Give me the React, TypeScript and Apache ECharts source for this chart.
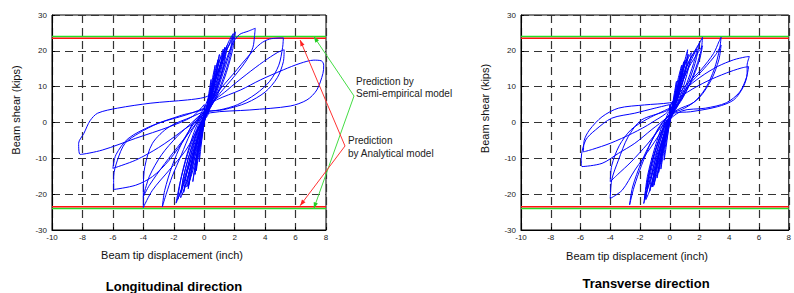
import React, { useEffect, useRef } from "react";
import * as echarts from "echarts";

// Prediction levels (kips)
const semiEmpiricalLevel = 24;
const analyticalLevel = 23.5;

// ---------- Longitudinal direction: hysteresis loops [displacement (inch), shear (kips)] ----------
const longLoopA = [[0,0],[0.15,4],[0.3,8],[0.45,12],[0.4,9],[0.2,4],[0,0.5],[-0.1,-3],[-0.22,-7],[-0.32,-11],[-0.3,-8],[-0.15,-4],[0,0]];
const longLoopB = [[0.05,1],[0.3,7],[0.55,12.5],[0.72,16],[0.6,12],[0.35,6],[0.08,1.5],[-0.15,-3],[-0.35,-8.5],[-0.52,-13.5],[-0.47,-10],[-0.25,-5],[0,0.5]];
const longLoopP = [[0,2],[0.3,6],[0.6,11],[0.85,14.5],[0.7,11],[0.35,5],[-0.05,0],[-0.25,-5],[-0.45,-10],[-0.6,-14.5],[-0.5,-10],[-0.25,-4],[0,1]];
const longLoopC = [[0.1,2],[0.4,8],[0.75,14.5],[1.0,19],[0.85,14.5],[0.5,8],[0.15,3],[-0.2,-2.5],[-0.45,-8],[-0.62,-13],[-0.75,-16.5],[-0.6,-12],[-0.35,-6],[-0.05,0]];
const longLoopN = [[0,1],[0.35,8],[0.7,14],[0.9,17.5],[0.75,13],[0.4,6],[0,1],[-0.3,-5],[-0.6,-11],[-0.9,-15.5],[-1.15,-18],[-0.95,-13],[-0.55,-6],[-0.1,1]];
const longLoopD = [[0.1,2],[0.5,9],[0.95,16.5],[1.25,20.5],[1.1,16.5],[0.7,9],[0.25,3.5],[-0.2,-1.5],[-0.55,-8],[-0.85,-14],[-1.02,-17.5],[-0.85,-13],[-0.5,-6],[-0.1,0.5]];
const longLoopR = [[0,2],[-0.4,-6],[-0.8,-13],[-1.05,-18.5],[-0.95,-14],[-0.6,-7.5],[-0.2,-1.5],[0.2,4],[0.6,10],[1.1,17],[1.35,21],[1.15,15.5],[0.65,8],[0.1,2]];
const longLoopE = [[0,3],[0.5,9],[1.0,15],[1.4,19.5],[1.2,15],[0.7,8],[0.1,2],[-0.5,-5],[-1.0,-12],[-1.3,-16.5],[-1.5,-19.5],[-1.35,-15],[-0.9,-8],[-0.3,-1],[0.2,3]];
const longLoopO = [[0.1,2],[0.55,10],[1.0,17],[1.5,21.5],[1.3,16],[0.8,9],[0.2,2.5],[-0.35,-4],[-0.75,-10],[-1.1,-16],[-1.3,-18.5],[-1.55,-21],[-1.4,-16],[-0.95,-8.5],[-0.4,-1.5],[0.1,2.5]];
const longLoopF = [[0.1,2.5],[0.6,10],[1.2,18],[1.6,22.5],[1.9,24.8],[1.7,20],[1.1,12],[0.5,5],[0,1.5],[-0.4,-4],[-0.8,-11],[-1.15,-16],[-1.35,-19.5],[-1.15,-14],[-0.7,-6],[-0.2,0.5]];
const longLoopQ = [[0.1,3],[0.7,11],[1.25,18.5],[1.7,22],[1.95,24],[1.6,17],[1.0,9.5],[0.4,4],[-0.2,-1],[-0.7,-8],[-1.2,-15],[-1.6,-20],[-1.75,-21.5],[-1.5,-15],[-1.0,-7],[-0.4,0],[0.2,3]];
const longLoopG = [[0.2,3],[0.7,10],[1.3,18],[1.8,23.5],[2.05,25.3],[1.85,20],[1.3,12],[0.6,5.5],[0,2],[-0.5,-4],[-1.0,-11],[-1.4,-17],[-1.65,-20.5],[-1.85,-22.5],[-1.6,-17],[-1.1,-9],[-0.5,-2],[0,3]];
const longLoopH = [[0,3],[0.6,7.5],[1.1,13],[1.8,21.5],[2.3,24.5],[2.9,25.5],[3.35,26.3],[3.3,24],[3.2,21],[2.8,17.5],[2.0,13],[1.0,8],[0.3,4],[-0.3,1],[-0.9,-3],[-1.5,-9],[-2.1,-15],[-2.5,-20],[-2.75,-23.5],[-2.6,-19],[-2.1,-12],[-1.5,-6],[-0.8,-1],[0,3]];
const longLoopI = [[0.2,4],[0.8,8],[1.9,13.5],[3.0,19],[3.7,22],[4.3,23.3],[5.2,23.6],[5.15,21],[4.9,16],[4.3,11.5],[3.4,8],[2.2,5],[1.0,3.5],[0,3],[-0.8,1.6],[-2.3,-1.2],[-3.4,-5.8],[-3.9,-12.3],[-4.0,-18],[-4.0,-23.7],[-3.4,-18.9],[-2.3,-13.3],[-1.2,-7.7],[-0.35,-1.2],[0.3,3]];
const longLoopJ = [[0.3,4],[1.5,9],[2.8,13.5],[3.9,17],[4.8,19.5],[5.25,20.3],[5.2,17],[4.8,12.5],[4.0,8.5],[2.8,5.5],[1.3,3.6],[0,2.8],[-0.8,0],[-1.8,-4],[-2.8,-9],[-3.6,-15],[-4.0,-20.7],[-3.6,-17.5],[-2.6,-11.5],[-1.5,-5.5],[-0.5,0],[0,4]];
const longLoopK = [[0,4],[0.8,6.3],[2.4,9.1],[3.7,11.9],[5.2,14.7],[6.3,16.5],[7.2,17.4],[7.7,17.2],[7.85,16],[7.8,13.7],[7.4,9.1],[6.75,6.3],[5.65,4.6],[3.0,3.5],[0.4,2.7],[-0.6,0.7],[-1.2,-4],[-2.3,-10.5],[-3.4,-15.1],[-4.5,-17.5],[-5.95,-18.7],[-5.95,-15.1],[-5.7,-10.5],[-5.2,-5.8],[-4.3,-3],[-3.0,-0.2],[-1.2,2.1],[0,4]];
const longLoopL = [[0,3],[-1.5,-2.5],[-3,-7],[-4.5,-10.5],[-6.0,-12.8],[-5.8,-9],[-5.0,-4.5],[-3.5,-1],[-1.5,2],[0,4]];
const longLoopM = [[0,5],[-0.8,1.6],[-2.3,-1.2],[-4.5,-4.4],[-6.7,-7.7],[-8.15,-8.9],[-8.25,-5.8],[-7.9,-3],[-7.5,0.5],[-7.0,2.6],[-5.7,4.0],[-3.5,5.4],[-1.1,6.3],[0,7],[0.8,8.5]];

// ---------- Transverse direction ----------
const transLoopA = [[0,0],[0.15,4],[0.3,8],[0.45,11.5],[0.38,8.5],[0.2,4],[0,0.5],[-0.12,-3],[-0.25,-7],[-0.38,-10.5],[-0.33,-7.5],[-0.15,-3.5],[0,0]];
const transLoopB = [[0.05,1],[0.3,7],[0.55,12],[0.8,16],[0.65,12],[0.35,6],[0.05,1.5],[-0.2,-3],[-0.4,-8],[-0.6,-13],[-0.52,-9.5],[-0.28,-4.5],[0,0.5]];
const transLoopP = [[0,2],[0.3,6],[0.6,10.5],[0.85,14],[0.7,10.5],[0.35,5],[-0.05,0],[-0.3,-5],[-0.55,-10],[-0.75,-14],[-0.62,-10],[-0.3,-4],[0,1]];
const transLoopC = [[0.1,2],[0.45,8.5],[0.8,14.5],[1.05,17.5],[0.9,14],[0.5,8],[0.15,3],[-0.2,-2],[-0.5,-8],[-0.72,-12.5],[-0.85,-15.5],[-0.7,-11],[-0.4,-5],[-0.05,0.5]];
const transLoopN = [[0,1],[0.35,7.5],[0.7,13.5],[0.95,17],[0.8,13],[0.45,6],[0,1],[-0.3,-5],[-0.6,-10.5],[-0.9,-15],[-1.15,-18],[-0.95,-13],[-0.55,-6],[-0.1,1]];
const transLoopD = [[0.1,2],[0.5,9],[0.9,15.5],[1.2,20.3],[1.1,16],[0.7,9],[0.25,3.5],[-0.25,-2],[-0.6,-8.5],[-0.9,-14],[-1.05,-17.5],[-0.9,-13],[-0.55,-6],[-0.1,0.5]];
const transLoopR = [[0,2],[-0.45,-6.5],[-0.9,-13],[-1.2,-18],[-1.05,-13.5],[-0.65,-7],[-0.2,-1.5],[0.2,4],[0.55,9.5],[1.0,16],[1.25,19],[1.05,14],[0.6,7.5],[0.1,2]];
const transLoopE = [[0.15,2.5],[0.6,9.5],[1.1,15.5],[1.55,19],[1.85,20.5],[1.6,16.5],[1.1,10.5],[0.5,5],[0,1.5],[-0.45,-4.5],[-0.85,-11],[-1.15,-16],[-1.35,-19.2],[-1.2,-14.5],[-0.75,-6.5],[-0.2,0.5]];
const transLoopO = [[0.1,2],[0.55,9.5],[1.0,16],[1.45,19.5],[1.25,15],[0.8,8.5],[0.2,2.5],[-0.35,-4],[-0.8,-10.5],[-1.15,-16],[-1.35,-19],[-1.6,-21.5],[-1.45,-16],[-1.0,-8.5],[-0.4,-1.5],[0.1,2.5]];
const transLoopF = [[0.2,3],[0.7,9.5],[1.3,16],[1.8,20.5],[2.2,23.8],[2.1,20],[1.6,13.5],[0.9,7],[0.2,2.5],[-0.45,-4],[-1.0,-11],[-1.4,-17],[-1.6,-20.5],[-1.75,-22.6],[-1.55,-17.5],[-1.1,-9.5],[-0.5,-2],[0,3]];
const transLoopQ = [[0.1,3],[0.7,10.5],[1.3,17],[1.75,20.5],[2.0,22.2],[1.7,16.5],[1.1,9.5],[0.45,4],[-0.2,-1],[-0.7,-8],[-1.25,-15.5],[-1.6,-20],[-1.7,-21.5],[-1.5,-15],[-1.0,-7],[-0.4,0],[0.2,3]];
const transLoopG = [[0,3],[0.6,9],[1.3,15.5],[1.9,19.5],[2.2,21.4],[2.0,17.5],[1.4,11],[0.7,6],[0.1,2.5],[-0.5,-3.5],[-1.1,-11],[-1.4,-16],[-1.55,-18.5],[-1.4,-14],[-0.9,-7],[-0.3,0],[0.2,3]];
const transLoopH = [[0,3.5],[1.0,10],[2.1,14.7],[2.95,19.3],[3.3,22.5],[3.45,23.8],[3.35,20.5],[3.0,15],[2.4,9.5],[1.6,5.6],[0.5,3.5],[-0.5,0],[-1.2,-5],[-1.9,-12],[-2.4,-18],[-2.7,-23],[-2.5,-18],[-1.9,-11],[-1.2,-5],[-0.3,1]];
const transLoopI = [[0.3,3.5],[1.2,10],[2.3,15],[3.1,19],[3.45,21.6],[3.3,17.5],[2.8,12],[2.0,7],[1.0,4],[0,2.5]];
const transLoopJ = [[0,4],[1.0,9.1],[2.1,12.8],[3.2,15.6],[4.3,17.5],[5.1,18.3],[5.35,18.4],[5.2,16],[5.2,13.7],[4.95,10],[4.3,6.3],[3.2,4.4],[1.4,3.0],[0.3,2.6],[-0.35,-1.2],[-1.25,-6.8],[-2.35,-13.3],[-3.2,-18.9],[-4.0,-21.2],[-3.9,-16],[-3.45,-10.5],[-2.8,-4],[-1.9,0.7],[0,4]];
const transLoopK = [[0,4.5],[1.2,8.5],[2.5,11.5],[3.8,13.8],[4.8,15.2],[5.3,15.6],[5.15,12.5],[4.7,8.5],[3.8,5.5],[2.4,4.0],[0.8,3.2],[-0.5,-1],[-1.5,-6],[-2.6,-11],[-3.5,-14.5],[-4.0,-16.5],[-3.9,-12],[-3.4,-6.5],[-2.6,-2],[-1.5,1],[0,4]];
const transLoopL = [[0,3],[-0.15,1.6],[-1.25,-2.1],[-2.35,-5.8],[-3.45,-8.6],[-4.55,-11.4],[-5.9,-12.3],[-5.95,-10],[-5.65,-4.9],[-5.0,-2.1],[-3.9,1.2],[-2.35,2.6],[-1,4],[0,5]];
const transLoopM = [[0,4],[-1.2,0],[-2.5,-3],[-4,-5.8],[-5.2,-7.5],[-5.8,-8.2],[-5.75,-5],[-5.4,-2.1],[-4.55,1.6],[-3.45,4.0],[-1.7,4.9],[0,5.5],[0.8,6.5]];

const longitudinalData = [
  ...longLoopA, ...longLoopB, ...longLoopP, ...longLoopC, ...longLoopN, ...longLoopD, ...longLoopR,
  ...longLoopE, ...longLoopO, ...longLoopF, ...longLoopQ, ...longLoopG,
  ...longLoopH, ...longLoopI, ...longLoopJ, ...longLoopK, ...longLoopL, ...longLoopM,
];
const transverseData = [
  ...transLoopA, ...transLoopB, ...transLoopP, ...transLoopC, ...transLoopN, ...transLoopD, ...transLoopR,
  ...transLoopE, ...transLoopO, ...transLoopF, ...transLoopQ, ...transLoopG,
  ...transLoopH, ...transLoopI, ...transLoopJ, ...transLoopK, ...transLoopL, ...transLoopM,
];

const xMin = -10, xMax = 8, xStep = 2;
const yMin = -30, yMax = 30, yStep = 10;
const titles = ["Longitudinal direction", "Transverse direction"];
const xName = "Beam tip displacement (inch)";
const yName = "Beam shear (kips)";

const FONT = "Arial, 'Liberation Sans', Helvetica, sans-serif";

export default function App() {
  const ref = useRef<HTMLDivElement>(null);
  useEffect(() => {
    const chart = echarts.init(ref.current as HTMLDivElement, null, { renderer: "svg" });
    const grids = [
      { left: 52, top: 15, width: 274, height: 215 },
      { left: 521, top: 15, width: 272, height: 215 },
    ];
    const split = { show: true, lineStyle: { color: "#333", type: [8, 5] as any, width: 1.2 } };
    const mkX = (i: number) => ({
      type: "value", gridIndex: i, min: xMin, max: xMax, interval: xStep,
      axisLine: { show: true, onZero: false, lineStyle: { color: "#000", width: 1 } },
      axisTick: { show: true, inside: true, length: 3, lineStyle: { color: "#000" } },
      axisLabel: { fontFamily: FONT, fontSize: 8, color: "#222", margin: 3 },
      splitLine: split,
    });
    const mkY = (i: number) => ({
      type: "value", gridIndex: i, min: yMin, max: yMax, interval: yStep,
      axisLine: { show: true, onZero: false, lineStyle: { color: "#000", width: 1 } },
      axisTick: { show: true, inside: true, length: 3, lineStyle: { color: "#000" } },
      axisLabel: { fontFamily: FONT, fontSize: 8, color: "#222", margin: 5 },
      splitLine: split,
    });
    const levelSeries = (i: number, v: number, color: string) => ({
      type: "line", xAxisIndex: i, yAxisIndex: i, data: [[xMin, v], [xMax, v]],
      showSymbol: false, silent: true, lineStyle: { color, width: 1.5 }, z: 3,
    });
    const series: any[] = [];
    [0, 1].forEach((i) => {
      series.push(levelSeries(i, semiEmpiricalLevel, "#22e022"));
      series.push(levelSeries(i, -semiEmpiricalLevel, "#22e022"));
      series.push(levelSeries(i, analyticalLevel, "#ff1111"));
      series.push(levelSeries(i, -analyticalLevel, "#ff1111"));
    });
    series.push({ type: "line", xAxisIndex: 0, yAxisIndex: 0, data: longitudinalData, showSymbol: false, smooth: 0.3, lineStyle: { color: "#0000ff", width: 1 }, z: 4 });
    series.push({ type: "line", xAxisIndex: 1, yAxisIndex: 1, data: transverseData, showSymbol: false, smooth: 0.3, lineStyle: { color: "#0000ff", width: 1 }, z: 4 });

    chart.setOption({
      animation: false,
      grid: grids.map((g) => ({ ...g, show: true, borderColor: "#000", borderWidth: 1, backgroundColor: "transparent" })),
      xAxis: [mkX(0), mkX(1)],
      yAxis: [mkY(0), mkY(1)],
      series,
    });

    const px = (v: number[]) => chart.convertToPixel({ gridIndex: 0 } as any, v) as number[];
    const greenV = [354, 96];
    const redV = [345, 146];
    const greenTips = [px([7.2, 24]), px([7.2, -24])];
    const redTips = [px([6.3, 23.0]), px([6.3, -23.2])];
    const arrowHead = (tip: number[], from: number[], color: string) => {
      const dx = tip[0] - from[0], dy = tip[1] - from[1];
      const L = Math.hypot(dx, dy);
      const ux = dx / L, uy = dy / L;
      const bx = tip[0] - ux * 6, by = tip[1] - uy * 6;
      const nx = -uy, ny = ux;
      return { type: "polygon", silent: true, z: 10, shape: { points: [tip, [bx + nx * 2.2, by + ny * 2.2], [bx - nx * 2.2, by - ny * 2.2]] }, style: { fill: color } };
    };
    const txt = (text: string, x: number, y: number, extra: any = {}) => ({
      type: "text", x, y, silent: true, z: 10,
      style: { text, fontFamily: FONT, fontSize: 10, fill: "#222", textVerticalAlign: "middle", ...extra },
    });
    const nameStyle = { fontSize: 11, fill: "#111", textAlign: "center" };
    chart.setOption({
      graphic: [
        { type: "polyline", silent: true, z: 9, shape: { points: [greenTips[0], greenV, greenTips[1]] }, style: { stroke: "#44dd44", lineWidth: 1, fill: "none" } },
        { type: "polyline", silent: true, z: 9, shape: { points: [redTips[0], redV, redTips[1]] }, style: { stroke: "#ff3333", lineWidth: 1, fill: "none" } },
        arrowHead(greenTips[0], greenV, "#22cc22"),
        arrowHead(greenTips[1], greenV, "#22cc22"),
        arrowHead(redTips[0], redV, "#ff2222"),
        arrowHead(redTips[1], redV, "#ff2222"),
        txt("Prediction by", 356, 81),
        txt("Semi-empirical model", 356, 93),
        txt("Prediction", 348, 140.5),
        txt("by Analytical model", 348, 153),
        txt(xName, 172, 255, nameStyle),
        txt(xName, 637, 255.5, nameStyle),
        { ...txt(yName, 0, 0, nameStyle), x: 15.5, y: 110, rotation: Math.PI / 2 },
        { ...txt(yName, 0, 0, nameStyle), x: 485, y: 108.5, rotation: Math.PI / 2 },
        txt(titles[0], 174, 286, { fontSize: 13, fontWeight: "bold", fill: "#000", textAlign: "center" }),
        txt(titles[1], 646, 283, { fontSize: 13, fontWeight: "bold", fill: "#000", textAlign: "center" }),
      ],
    });
    return () => chart.dispose();
  }, []);
  return <div ref={ref} style={{ position: "fixed", left: 0, top: 0, width: 794, height: 293, background: "#fff" }} />;
}
